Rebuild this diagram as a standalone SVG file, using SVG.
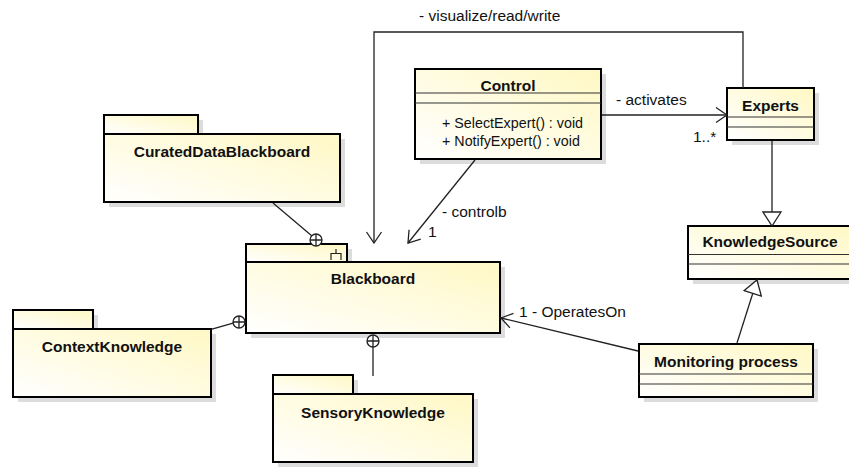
<svg xmlns="http://www.w3.org/2000/svg" width="849" height="468" viewBox="0 0 849 468">
<defs>
<linearGradient id="fill" x1="0" y1="1" x2="1" y2="0">
<stop offset="0" stop-color="#ffffff"/>
<stop offset="1" stop-color="#fff8c4"/>
</linearGradient>
<marker id="open" viewBox="-13 -9 14 18" refX="0" refY="0" markerWidth="14" markerHeight="18" markerUnits="userSpaceOnUse" orient="auto">
<path d="M-11,-7.5 L0,0 L-11,7.5" fill="none" stroke="#222" stroke-width="1.3"/>
</marker>
<marker id="tri" viewBox="-15 -10 16 20" refX="0" refY="0" markerWidth="16" markerHeight="20" markerUnits="userSpaceOnUse" orient="auto">
<path d="M-14,-9 L0,0 L-14,9 Z" fill="#fff" stroke="#222" stroke-width="1.3"/>
</marker>
</defs>
<style>
.sh{fill:#dcdcdc}
.box{fill:url(#fill);stroke:#000;stroke-width:2}
.sep{stroke:#333;stroke-width:1.2}
.nm{font-family:"Liberation Sans",Arial,sans-serif;font-weight:bold;font-size:15.5px;fill:#111;text-anchor:middle}
.op{font-family:"Liberation Sans",Arial,sans-serif;font-size:14.3px;fill:#111}
.lb{font-family:"Liberation Sans",Arial,sans-serif;font-size:15.5px;fill:#111}
.ln{fill:none;stroke:#222;stroke-width:1.3}
.circ{fill:#fff;stroke:#222;stroke-width:1.3}
</style>

<g id="Control">
<rect class="sh" x="420" y="74" width="186" height="90"/>
<rect class="box" x="415" y="69" width="186" height="90"/>
<line class="sep" x1="415" y1="93" x2="601" y2="93"/>
<line class="sep" x1="415" y1="103" x2="601" y2="103"/>
<text class="nm" x="508" y="91">Control</text>
<text class="op" x="442" y="128">+ SelectExpert() : void</text>
<text class="op" x="442" y="146">+ NotifyExpert() : void</text>
</g>

<g id="Experts">
<rect class="sh" x="732" y="93" width="87" height="52"/>
<rect class="box" x="727" y="88" width="87" height="52"/>
<line class="sep" x1="727" y1="117" x2="814" y2="117"/>
<line class="sep" x1="727" y1="127" x2="814" y2="127"/>
<text class="nm" x="770.5" y="111">Experts</text>
</g>

<g id="KnowledgeSource">
<rect class="sh" x="693" y="231" width="164" height="53"/>
<rect class="box" x="688" y="226" width="164" height="53"/>
<line class="sep" x1="688" y1="254.5" x2="852" y2="254.5"/>
<line class="sep" x1="688" y1="264" x2="852" y2="264"/>
<text class="nm" x="770" y="247">KnowledgeSource</text>
</g>

<g id="MonitoringProcess">
<rect class="sh" x="644" y="349" width="174" height="53"/>
<rect class="box" x="639" y="344" width="174" height="53"/>
<line class="sep" x1="639" y1="374" x2="813" y2="374"/>
<line class="sep" x1="639" y1="384" x2="813" y2="384"/>
<text class="nm" x="726" y="367">Monitoring process</text>
</g>

<g id="CuratedDataBlackboard">
<rect class="sh" x="109" y="120" width="94" height="19"/>
<rect class="sh" x="109" y="139" width="236" height="68"/>
<rect class="box" x="104" y="115" width="94" height="19"/>
<rect class="box" x="104" y="134" width="236" height="68"/>
<text class="nm" x="222" y="157">CuratedDataBlackboard</text>
</g>

<g id="Blackboard">
<rect class="sh" x="251" y="249" width="101" height="18"/>
<rect class="sh" x="251" y="267" width="254" height="71"/>
<rect class="box" x="246" y="244" width="101" height="18"/>
<rect class="box" x="246" y="262" width="254" height="71"/>
<path d="M331,260 V253.5 H341 V260 M336,253.5 V249" fill="none" stroke="#222" stroke-width="1.2"/>
<text class="nm" x="373" y="284">Blackboard</text>
</g>

<g id="ContextKnowledge">
<rect class="sh" x="18" y="315" width="80" height="19"/>
<rect class="sh" x="18" y="334" width="198" height="68"/>
<rect class="box" x="13" y="310" width="80" height="19"/>
<rect class="box" x="13" y="329" width="198" height="68"/>
<text class="nm" x="112" y="352">ContextKnowledge</text>
</g>

<g id="SensoryKnowledge">
<rect class="sh" x="278" y="380" width="80" height="19"/>
<rect class="sh" x="278" y="399" width="200" height="68"/>
<rect class="box" x="273" y="375" width="80" height="19"/>
<rect class="box" x="273" y="394" width="200" height="68"/>
<text class="nm" x="373" y="418">SensoryKnowledge</text>
</g>

<g id="connectors">
<polyline class="ln" points="743,88 743,32 374,32 374,243" marker-end="url(#open)"/>
<line class="ln" x1="602" y1="115" x2="727" y2="115" marker-end="url(#open)"/>
<line class="ln" x1="475" y1="160" x2="408" y2="243" marker-end="url(#open)"/>
<line class="ln" x1="638" y1="351" x2="501" y2="318" marker-end="url(#open)"/>
<line class="ln" x1="772" y1="141" x2="772" y2="226" marker-end="url(#tri)"/>
<line class="ln" x1="737" y1="343" x2="757" y2="280" marker-end="url(#tri)"/>
<line class="ln" x1="273" y1="203" x2="312" y2="236"/>
<line class="ln" x1="212" y1="329" x2="233" y2="323"/>
<line class="ln" x1="373" y1="376" x2="373" y2="347"/>
<g>
<circle class="circ" cx="316" cy="240" r="6"/>
<path class="ln" d="M310,240 H322 M316,234 V246"/>
<circle class="circ" cx="239" cy="322" r="6"/>
<path class="ln" d="M233,322 H245 M239,316 V328"/>
<circle class="circ" cx="373" cy="341" r="6"/>
<path class="ln" d="M367,341 H379 M373,335 V347"/>
</g>
<text class="lb" x="419" y="21">- visualize/read/write</text>
<text class="lb" x="616" y="105">- activates</text>
<text class="lb" x="693" y="141.5">1..*</text>
<text class="lb" x="442" y="216.5">- controlb</text>
<text class="lb" x="428" y="236.5">1</text>
<text class="lb" x="519" y="317">1 - OperatesOn</text>
</g>
</svg>
